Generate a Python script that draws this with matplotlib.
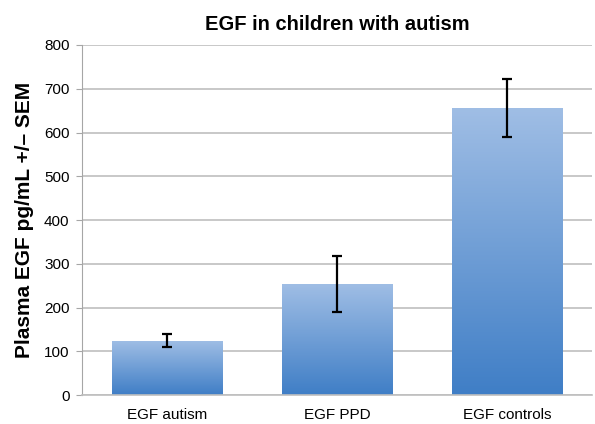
import numpy as np
import matplotlib.pyplot as plt
from matplotlib.colors import LinearSegmentedColormap

plt.rcParams['font.family'] = ['Liberation Sans', 'DejaVu Sans']

groups = ["EGF autism", "EGF PPD", "EGF controls"]
means = [124, 254, 656]
sems = [15, 64, 67]

fig = plt.figure(figsize=(5.95, 4.24), dpi=100)
ax = fig.add_axes([0.138, 0.068, 0.857, 0.826])

x = np.arange(len(groups))
bars = ax.bar(x, means, width=0.65, color='none', edgecolor='none', zorder=2)

# vertical gradient, light at top -> darker at bottom, per bar
cmap = LinearSegmentedColormap.from_list("g", ["#3f7ec6", "#a0bee5"])
grad = np.linspace(0, 1, 256).reshape(-1, 1)
for b in bars:
    x0, y0 = b.get_x(), b.get_y()
    w, h = b.get_width(), b.get_height()
    im = ax.imshow(grad, cmap=cmap, origin='lower', aspect='auto',
                   extent=[x0, x0 + w, y0, y0 + h], zorder=2)
    im.set_clip_path(b)

ax.errorbar(x, means, yerr=sems, fmt='none', ecolor='black', elinewidth=1.6,
            capsize=3.5, capthick=1.6, zorder=3)

ax.set_xlim(-0.5, 2.5)
ax.set_ylim(0, 800)
ax.set_yticks(range(0, 801, 100))
ax.set_xticks(x)
ax.set_xticklabels(groups, fontsize=11)
ax.tick_params(axis='y', labelsize=11, length=4, color='#a6a6a6', pad=5)
ax.tick_params(axis='x', length=0, pad=9)
ax.yaxis.grid(True, color='#bfbfbf', linewidth=1.2, zorder=0)
ax.set_axisbelow(True)
for s in ['top', 'right']:
    ax.spines[s].set_visible(False)
ax.spines['left'].set_color('#a6a6a6')
ax.spines['bottom'].set_color('#bfbfbf')
ax.spines['bottom'].set_linewidth(1.2)

ax.set_title("EGF in children with autism", fontsize=14.5, fontweight='bold', pad=11)
ax.set_ylabel("Plasma EGF pg/mL +/\u2013 SEM", fontsize=15, fontweight='bold', labelpad=7)

fig.savefig("out.png", dpi=100)
